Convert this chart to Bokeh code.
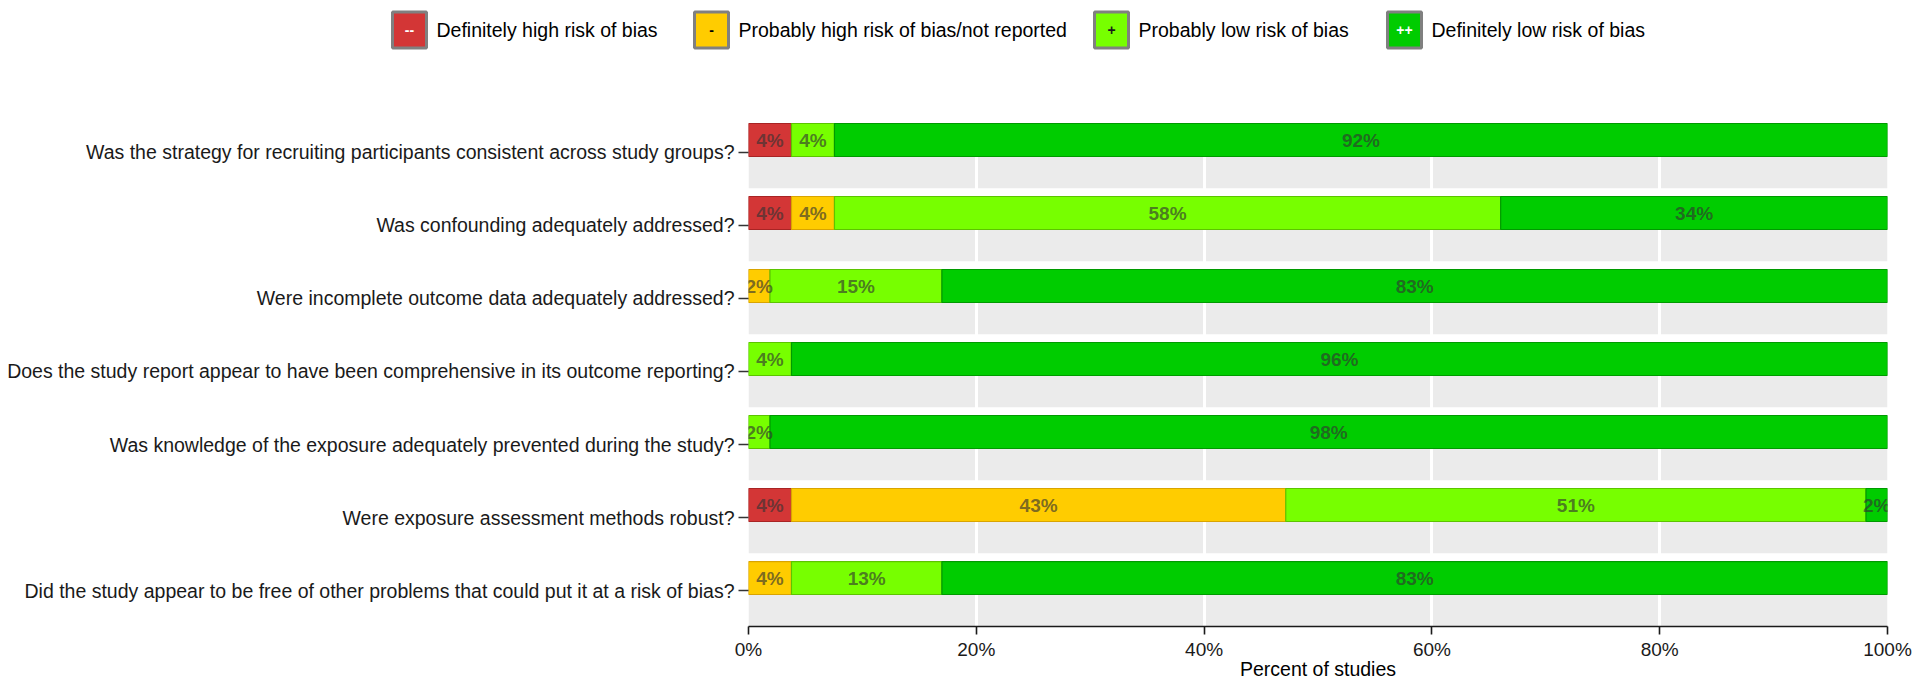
from bokeh.plotting import figure
from bokeh.models import ColumnDataSource, Range1d, FixedTicker
from bokeh.layouts import column
from bokeh.embed import file_html
from bokeh.resources import INLINE
from bokeh.core.properties import value

# ---------------- data ----------------
questions = [
    "Was the strategy for recruiting participants consistent across study groups?",
    "Was confounding adequately addressed?",
    "Were incomplete outcome data adequately addressed?",
    "Does the study report appear to have been comprehensive in its outcome reporting?",
    "Was knowledge of the exposure adequately prevented during the study?",
    "Were exposure assessment methods robust?",
    "Did the study appear to be free of other problems that could put it at a risk of bias?",
]
categories = [
    "Definitely high risk of bias",
    "Probably high risk of bias/not reported",
    "Probably low risk of bias",
    "Definitely low risk of bias",
]
symbols = ["--", "-", "+", "++"]
n_studies = 53
definitely_high = [2, 2, 0, 0, 0, 2, 0]
probably_high = [0, 2, 1, 0, 0, 23, 2]
probably_low = [2, 31, 8, 2, 1, 27, 7]
definitely_low = [49, 18, 44, 51, 52, 1, 44]
x_ticks = [0, 20, 40, 60, 80, 100]
x_tick_labels = ["0%", "20%", "40%", "60%", "80%", "100%"]
x_title = "Percent of studies"

# ---------------- style ----------------
fills = ["#D33636", "#FFCC00", "#77FF00", "#00CC00"]
edges = ["#A82424", "#D9A400", "#5CC400", "#009A00"]
sym_colors = ["white", "black", "#1a1a1a", "white"]
FONT = "Liberation Sans"
W = 1920
LEG_H = 60
MAIN_H = 622

series = [definitely_high, probably_high, probably_low, definitely_low]
nq = len(questions)
ypos = [nq - 1 - i for i in range(nq)]  # top row highest

# bar geometry relative to category tick (in row units)
BAR_TOP = 0.397
BAR_H = 0.452
GREY_BOTTOM = -0.49

seg = dict(y=[], left=[], right=[], mid=[], fill=[], edge=[], label=[])
for i in range(nq):
    cum = 0.0
    for k, s in enumerate(series):
        v = s[i] / n_studies * 100
        if s[i] > 0:
            seg["y"].append(ypos[i] + BAR_TOP - BAR_H / 2)
            seg["left"].append(cum)
            seg["right"].append(cum + v)
            seg["mid"].append(cum + v / 2)
            seg["fill"].append(fills[k])
            seg["edge"].append(edges[k])
            seg["label"].append(f"{round(v)}%")
        cum += v
seg_src = ColumnDataSource(seg)

grey_src = ColumnDataSource(dict(
    top=[y + BAR_TOP for y in ypos],
    bottom=[y + GREY_BOTTOM for y in ypos],
))

# ---------------- main figure ----------------
p = figure(width=W, height=MAIN_H, output_backend="svg", toolbar_location=None,
           x_range=Range1d(0, 100), y_range=Range1d(-0.493, 7.260),
           min_border_left=748, min_border_right=33, min_border_top=0,
           min_border_bottom=56)
p.frame_align = False
p.outline_line_color = None
p.background_fill_color = "white"
p.border_fill_color = "white"

p.quad(left=0, right=100, top="top", bottom="bottom", source=grey_src,
       fill_color="#EBEBEB", line_color=None, level="image")

p.hbar(y="y", left="left", right="right", height=BAR_H, source=seg_src,
       fill_color="fill", line_color="edge", line_width=1.2)
p.text(x="mid", y="y", text="label", source=seg_src, text_align="center",
       text_baseline="middle", text_font=value(FONT), text_font_size="19px",
       text_font_style="bold", text_color="#333333", text_alpha=0.65)

p.xgrid.ticker = FixedTicker(ticks=x_ticks)
p.xgrid.grid_line_color = "white"
p.xgrid.grid_line_width = 3
p.ygrid.grid_line_color = None

xa = p.xaxis[0]
xa.ticker = FixedTicker(ticks=x_ticks)
xa.major_label_overrides = {t: l for t, l in zip(x_ticks, x_tick_labels)}
xa.axis_line_color = "#1a1a1a"
xa.axis_line_width = 1.6
xa.major_tick_line_color = "#1a1a1a"
xa.major_tick_line_width = 1.6
xa.major_tick_out = 8
xa.major_tick_in = 0
xa.minor_tick_line_color = None
xa.major_label_standoff = 4
xa.major_label_text_font = FONT
xa.major_label_text_font_size = "19px"
xa.major_label_text_color = "#1a1a1a"
xa.axis_label = x_title
xa.axis_label_text_font = FONT
xa.axis_label_text_font_size = "19.5px"
xa.axis_label_text_font_style = "normal"
xa.axis_label_text_color = "black"
xa.axis_label_standoff = -5

ya = p.yaxis[0]
ya.ticker = FixedTicker(ticks=ypos)
ya.major_label_overrides = {y: q for y, q in zip(ypos, questions)}
ya.axis_line_color = None
ya.major_tick_line_color = "#333333"
ya.major_tick_line_width = 1.6
ya.major_tick_out = 10
ya.major_tick_in = 0
ya.minor_tick_line_color = None
ya.major_label_standoff = 4
ya.major_label_text_font = FONT
ya.major_label_text_font_size = "19.5px"
ya.major_label_text_color = "#1a1a1a"

# ---------------- legend figure ----------------
leg_key_x = [409, 711, 1111, 1404]
leg_y = 29.5
leg = figure(width=W, height=LEG_H, output_backend="svg", toolbar_location=None,
             x_range=Range1d(0, W), y_range=Range1d(LEG_H, 0),
             x_axis_location=None, y_axis_location=None,
             min_border=0)
leg.frame_align = False
leg.outline_line_color = None
leg.grid.visible = False
leg_src = ColumnDataSource(dict(
    x=leg_key_x, tx=[x + 27 for x in leg_key_x], y=[leg_y] * 4,
    fill=fills, sym=symbols, symc=sym_colors, name=categories,
))
leg.rect(x="x", y="y", width=34, height=36, source=leg_src, fill_color="fill",
         line_color="#808080", line_width=3)
leg.text(x="x", y="y", text="sym", source=leg_src, text_align="center",
         text_baseline="middle", text_font=value(FONT), text_font_size="14px",
         text_font_style="bold", text_color="symc")
leg.text(x="tx", y="y", text="name", source=leg_src, text_align="left",
         text_baseline="middle", text_font=value(FONT), text_font_size="19.5px",
         text_color="black")

layout = column(leg, p, spacing=0)
open("out.html", "w").write(file_html(layout, INLINE))
